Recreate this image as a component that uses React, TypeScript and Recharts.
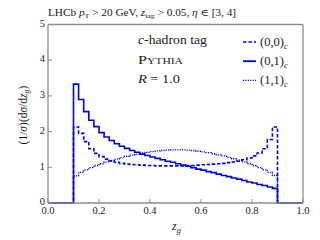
import React from "react";
import { LineChart, Line, XAxis, YAxis, Legend } from "recharts";

// bin left edges (bin width 0.02)
const binEdges = [
  0.10, 0.12, 0.14, 0.16, 0.18, 0.20, 0.22, 0.24, 0.26, 0.28,
  0.30, 0.32, 0.34, 0.36, 0.38, 0.40, 0.42, 0.44, 0.46, 0.48,
  0.50, 0.52, 0.54, 0.56, 0.58, 0.60, 0.62, 0.64, 0.66, 0.68,
  0.70, 0.72, 0.74, 0.76, 0.78, 0.80, 0.82, 0.84, 0.86, 0.88,
];
const outerEdges = [0.0, 0.9, 1.0];

const series00 = [
  2.13, 1.95, 1.72, 1.52, 1.39, 1.30, 1.23, 1.18, 1.14, 1.11,
  1.09, 1.08, 1.07, 1.06, 1.05, 1.05, 1.04, 1.04, 1.04, 1.04,
  1.04, 1.04, 1.05, 1.05, 1.06, 1.07, 1.08, 1.09, 1.10, 1.11,
  1.13, 1.15, 1.17, 1.21, 1.26, 1.32, 1.40, 1.52, 1.78, 2.13,
];
const series01 = [
  3.33, 2.90, 2.56, 2.32, 2.14, 1.97, 1.85, 1.75, 1.66, 1.59,
  1.53, 1.47, 1.42, 1.37, 1.33, 1.29, 1.25, 1.21, 1.17, 1.14,
  1.10, 1.06, 1.03, 0.99, 0.95, 0.92, 0.88, 0.85, 0.81, 0.77,
  0.74, 0.70, 0.67, 0.63, 0.59, 0.56, 0.52, 0.49, 0.45, 0.41,
];
const series11 = [
  0.76, 0.86, 0.93, 0.99, 1.05, 1.10, 1.15, 1.19, 1.23, 1.27,
  1.31, 1.34, 1.37, 1.40, 1.42, 1.44, 1.46, 1.47, 1.48, 1.49,
  1.49, 1.49, 1.48, 1.47, 1.45, 1.43, 1.41, 1.38, 1.35, 1.32,
  1.28, 1.24, 1.20, 1.15, 1.10, 1.05, 0.99, 0.93, 0.86, 0.77,
];

const xTicks = [0, 0.2, 0.4, 0.6, 0.8, 1.0];
const yTicks = [0, 1, 2, 3, 4, 5];

const seriesNames = ["(0,0)", "(0,1)", "(1,1)"];

const data = [
  { x: outerEdges[0], s00: 0, s01: 0, s11: 0 },
  ...binEdges.map((x, i) => ({ x, s00: series00[i], s01: series01[i], s11: series11[i] })),
  { x: outerEdges[1], s00: 0, s01: 0, s11: 0 },
  { x: outerEdges[2], s00: 0, s01: 0, s11: 0 },
];

const BLUE = "#0000ff";
const FRAME = "#8c8c8c";
const TEXT = "#1a1a1a";
const SERIF = "'Liberation Serif', 'DejaVu Serif', serif";

const legendStyles = [
  { dash: "3.5 2", width: 1.6 },
  { dash: undefined, width: 1.8 },
  { dash: "1.2 1.2", width: 1.3 },
];

const LegendContent = () => (
  <svg width={75} height={60} style={{ display: "block", overflow: "visible" }}>
    {seriesNames.map((n, i) => {
      const cy = 12 + i * 19.2;
      return (
        <g key={n}>
          <line x1={3} x2={16} y1={cy} y2={cy} stroke={BLUE} strokeWidth={legendStyles[i].width}
            strokeDasharray={legendStyles[i].dash} />
          <text x={20} y={cy + 4} fontFamily={SERIF} fontSize={12.5} fill={TEXT}>
            {n}
            <tspan fontStyle="italic" fontSize={8.5} dy={2.5}>c</tspan>
          </text>
        </g>
      );
    })}
  </svg>
);

export default function App() {
  return (
    <div style={{ position: "absolute", left: 0, top: 0, width: 320, height: 240, background: "#fff" }}>
      <LineChart
        width={320}
        height={240}
        data={data}
        margin={{ top: 14.5, right: 7, bottom: 17, left: 18 }}
      >
        <XAxis
          dataKey="x"
          type="number"
          domain={[0, 1]}
          ticks={xTicks}
          tickFormatter={(v: number) => v.toFixed(1)}
          height={20}
          tickSize={-4}
          tickMargin={7.5}
          axisLine={{ stroke: FRAME, strokeWidth: 1.3 }}
          tickLine={{ stroke: FRAME, strokeWidth: 1 }}
          tick={{ fill: TEXT, fontSize: 10.5, fontFamily: SERIF }}
          interval={0}
        />
        <XAxis
          xAxisId="top"
          orientation="top"
          dataKey="x"
          type="number"
          domain={[0, 1]}
          ticks={xTicks}
          height={10}
          tickSize={-4}
          tick={false}
          axisLine={{ stroke: FRAME, strokeWidth: 1.3 }}
          tickLine={{ stroke: FRAME, strokeWidth: 1 }}
        />
        <YAxis
          type="number"
          domain={[0, 5]}
          ticks={yTicks}
          width={30}
          tickSize={-4}
          tickMargin={7}
          axisLine={{ stroke: FRAME, strokeWidth: 1.3 }}
          tickLine={{ stroke: FRAME, strokeWidth: 1 }}
          tick={{ fill: TEXT, fontSize: 10.5, fontFamily: SERIF, dy: -1.5 }}
          interval={0}
        />
        <YAxis
          yAxisId="right"
          orientation="right"
          type="number"
          domain={[0, 5]}
          ticks={yTicks}
          width={10}
          tickSize={-4}
          tick={false}
          axisLine={{ stroke: FRAME, strokeWidth: 1.3 }}
          tickLine={{ stroke: FRAME, strokeWidth: 1 }}
        />
        <Line type="stepAfter" dataKey="s11" stroke={BLUE} strokeWidth={1.3} strokeDasharray="1.2 1.2"
          dot={false} isAnimationActive={false} />
        <Line type="stepAfter" dataKey="s00" stroke={BLUE} strokeWidth={1.6} strokeDasharray="3.5 2"
          dot={false} isAnimationActive={false} />
        <Line type="stepAfter" dataKey="s01" stroke={BLUE} strokeWidth={1.6}
          dot={false} isAnimationActive={false} />
        <Legend
          layout="vertical"
          align="center"
          verticalAlign="middle"
          wrapperStyle={{ left: 240, top: 30, width: 75 }}
          content={() => <LegendContent />}
        />
      </LineChart>
      <svg width={320} height={240} style={{ position: "absolute", left: 0, top: 0, pointerEvents: "none" }}>
        <text x={48} y={15.5} fontFamily={SERIF} fontSize={10} fill={TEXT} textLength={188} lengthAdjust="spacingAndGlyphs">
          LHCb <tspan fontStyle="italic">p</tspan><tspan fontSize={7} dy={2}>T</tspan>
          <tspan dy={-2}> {">"} 20 GeV, </tspan><tspan fontStyle="italic">z</tspan>
          <tspan fontSize={7} dy={2}>tag</tspan><tspan dy={-2}> {">"} 0.05, </tspan>
          <tspan fontStyle="italic">η</tspan> ∈ [3, 4]
        </text>
        <text x={138} y={44} fontFamily={SERIF} fontSize={12.5} fill={TEXT} textLength={69} lengthAdjust="spacingAndGlyphs">
          <tspan fontStyle="italic">c</tspan>-hadron tag
        </text>
        <text x={138} y={63.5} fontFamily={SERIF} fontSize={12.5} fill={TEXT} style={{ fontVariant: "small-caps" }}
          textLength={45} lengthAdjust="spacingAndGlyphs">
          Pythia
        </text>
        <text x={138} y={83} fontFamily={SERIF} fontSize={12.5} fill={TEXT} textLength={42} lengthAdjust="spacingAndGlyphs">
          <tspan fontStyle="italic">R</tspan> = 1.0
        </text>
        <text
          x={0}
          y={0}
          transform="translate(27,115) rotate(-90)"
          textAnchor="middle"
          fontFamily={SERIF}
          fontSize={11.5}
          fill={TEXT}
        >
          (1/<tspan fontStyle="italic">σ</tspan>)(d<tspan fontStyle="italic">σ</tspan>/d<tspan fontStyle="italic">z</tspan>
          <tspan fontStyle="italic" fontSize={8} dy={2}>g</tspan><tspan dy={-2}>)</tspan>
        </text>
        <text x={172} y={230} fontFamily={SERIF} fontSize={12} fill={TEXT}>
          <tspan fontStyle="italic">z</tspan>
          <tspan fontStyle="italic" fontSize={8.5} dy={2.5}>g</tspan>
        </text>
      </svg>
    </div>
  );
}
